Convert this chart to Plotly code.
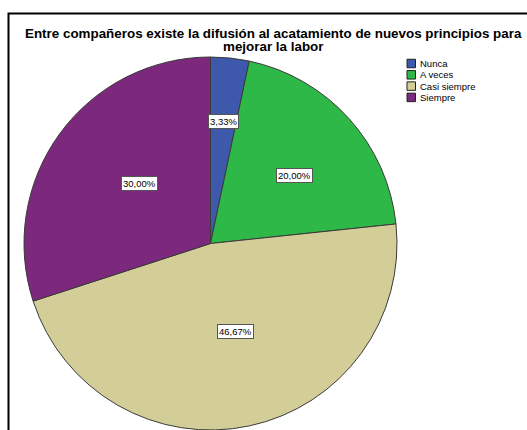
import math
import plotly.graph_objects as go

# Survey answers (percent of respondents)
categories = ["Nunca", "A veces", "Casi siempre", "Siempre"]
percentages = [3.33, 20.00, 46.67, 30.00]
title_lines = [
    "Entre compañeros existe la difusión al acatamiento de nuevos principios para",
    "mejorar la labor",
]

colors = ["#3E58AC", "#2EB848", "#D3CE97", "#7C287D"]
label_radius = [0.66, 0.58, 0.49, 0.50]   # fraction of the pie radius for each value box
label_shift = [0, 3, -4, 4]                # small angular nudge (degrees) for each box

W, H = 527, 430
cx, cy = 210.5, 243.5      # pie centre in pixels (from top-left)
R = 186.5                  # pie radius in pixels

fig = go.Figure()
fig.add_trace(go.Pie(
    labels=categories,
    values=percentages,
    sort=False,
    direction="clockwise",
    rotation=0,
    marker=dict(colors=colors, line=dict(color="#3a3a3a", width=1)),
    textinfo="none",
    hoverinfo="label+percent",
    showlegend=False,
    domain=dict(x=[(cx - R) / W, (cx + R) / W], y=[0, (2 * R) / H]),
))

annotations = []
shapes = []

# value boxes placed along each slice's middle angle
total = sum(percentages)
cum = 0.0
for name, v, f, d in zip(categories, percentages, label_radius, label_shift):
    mid = (cum + v / 2) / total * 360 + d
    cum += v
    rad = math.radians(mid)
    px = cx + R * f * math.sin(rad)
    py = cy - R * f * math.cos(rad)
    annotations.append(dict(
        x=px / W, y=1 - py / H, xref="paper", yref="paper",
        text=f"{v:.2f}%".replace(".", ","), showarrow=False,
        font=dict(family="Arial, Liberation Sans", size=9.5, color="#000"),
        bgcolor="#ffffff", bordercolor="#555555", borderwidth=1, borderpad=1,
        xanchor="center", yanchor="middle",
    ))

# two-line title
for i, line in enumerate(title_lines):
    annotations.append(dict(
        x=273.5 / W, y=1 - (34 + i * 12) / H, xref="paper", yref="paper",
        text=f"<b>{line}</b>", showarrow=False,
        font=dict(family="Arial, Liberation Sans", size=13.4, color="#000"),
        xanchor="center", yanchor="middle",
    ))

# compact legend
lx, ly0, step, box = 407, 63.5, 11.3, 8.5
for i, (name, c) in enumerate(zip(categories, colors)):
    yc = ly0 + i * step
    shapes.append(dict(
        type="rect", xref="paper", yref="paper",
        x0=lx / W, x1=(lx + box) / W,
        y0=1 - (yc + box / 2) / H, y1=1 - (yc - box / 2) / H,
        fillcolor=c, line=dict(color="#222", width=1),
    ))
    annotations.append(dict(
        x=(lx + box + 2) / W, y=1 - yc / H, xref="paper", yref="paper",
        text=name, showarrow=False,
        font=dict(family="Arial, Liberation Sans", size=9.5, color="#000"),
        xanchor="left", yanchor="middle",
    ))

# chart frame (left and top edges)
shapes.append(dict(
    type="path", xref="paper", yref="paper",
    path=f"M {8.5 / W} 0 L {8.5 / W} {1 - 13.5 / H} L 1 {1 - 13.5 / H}",
    line=dict(color="#000", width=2),
))

fig.update_layout(
    width=W, height=H,
    margin=dict(l=0, r=0, t=0, b=0),
    paper_bgcolor="#ffffff", plot_bgcolor="#ffffff",
    annotations=annotations, shapes=shapes,
)

fig.write_html("out.html")
